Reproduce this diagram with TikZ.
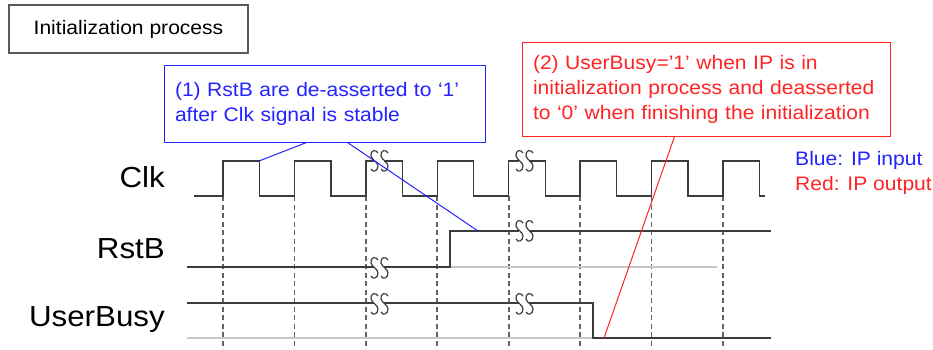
\documentclass[tikz,border=0pt]{standalone}
\usepackage{fontspec}
\setmainfont{Liberation Sans}[FakeStretch=1.08]
\usetikzlibrary{
  positioning,
  calc}
\definecolor{sigcolor}{RGB}{60,60,60}
\definecolor{gridcolor}{RGB}{100,100,100}
\definecolor{basecolor}{RGB}{200,200,200}
\definecolor{inputcolor}{RGB}{35,35,255}
\definecolor{outputcolor}{RGB}{255,35,35}
\definecolor{titlecolor}{RGB}{90,90,90}
\tikzset{
  %% signal : a waveform
  signal/.style={sigcolor, line width=1.4pt, line join=miter},
  %% baseline : the idle level of a signal
  baseline/.style={basecolor, line width=1.4pt},
  %% gridline : clock edge marker
  gridline/.style={gridcolor, line width=1.7pt, dash pattern=on 5pt off 3.5pt},
  %% signame : signal name on the left
  signame/.style={anchor=base east, inner sep=0pt, font=\fontsize{29}{29}\selectfont},
  %% title : the heading box
  title/.style={
    rectangle,
    draw=titlecolor,
    line width=1.5pt,
    minimum width=239pt,
    minimum height=48pt,
    font=\fontsize{19.5}{22}\selectfont,
    align=center
  },
  %% note : a comment box
  note/.style={
    rectangle,
    line width=1pt,
    inner xsep=11pt,
    align=left,
    font=\fontsize{19.5}{25}\selectfont
  },
  %% legend : colour key
  legend/.style={anchor=base west, inner sep=0pt, font=\fontsize{19.5}{22}\selectfont},
  %% callout : line from a note to the waveform
  callout/.style={line width=1pt}
}
\tikzset{
  brk/.pic = {
    \fill [white] (-5,-3) rectangle (5,3);
    \draw [sigcolor, line width=1.2pt] (-1,-8) .. controls (-3,-12) and (-9,-11) .. (-8,-5)
      .. controls (-7,-1) and (-1,1) .. (-1,5) .. controls (-1,10) and (-6,12) .. (-8,8);
    \draw [sigcolor, line width=1.2pt] (9,-8) .. controls (7,-12) and (1,-11) .. (2,-5)
      .. controls (3,-1) and (9,1) .. (9,5) .. controls (9,10) and (4,12) .. (2,8);
  }
}

\begin{document}
\begin{tikzpicture}
  [x=1pt,
  y=-1pt]

  \useasboundingbox (0,0) rectangle (933,349);

  %% Heading and notes
  \node (title) [title] at (128.5,29) {Initialization process};

  \node (rstnote) [note, draw=inputcolor, text=inputcolor,
    minimum width=321pt, minimum height=77pt, text width=299pt] at (324.5,103.5) {%
    (1) RstB are de-asserted to ‘1’\\after Clk signal is stable
  };

  \node (busynote) [note, draw=outputcolor, text=outputcolor,
    minimum width=368pt, minimum height=94pt, text width=346pt] at (706,89) {%
    (2) UserBusy=’1’ when IP is in\\initialization process and deasserted\\to ‘0’ when finishing the initialization
  };

  %% Legend
  \node (legin) [legend, text=inputcolor] at (795,165) {Blue: IP input};
  \node (legout) [legend, text=outputcolor] at (795,190) {Red: IP output};

  %% Signal names
  \node (clkname) [signame] at (165,187) {Clk};
  \node (rstname) [signame] at (165,258) {RstB};
  \node (busyname) [signame] at (165,326) {UserBusy};

  %% Clock edges
  \foreach \i in {0,...,7}
    \draw [gridline] (223+71.43*\i,196) -- (223+71.43*\i,349);

  %% Idle levels
  \draw [baseline] (450,267) -- (717,267);
  \draw [baseline] (187,338) -- (593,338);

  %% Waveforms
  \draw [signal] (194,196)
    \foreach \i in {0,...,7} {
      -- (223+71.43*\i,196) -- ++(0,-35) -- ++(36.5,0) -- ++(0,35)
    } -- (765,196);
  \draw [signal] (187,267) -- (450,267) -- (450,231) -- (771,231);
  \draw [signal] (187,303) -- (593,303) -- (593,338) -- (771,338);

  %% Breaks
  \foreach \p in {(379,161),(524,161),(379,268),(524,231),(379,304),(524,304)}
    \pic at \p {brk};

  %% Callouts
  \coordinate (clkfall) at (259,161);
  \coordinate (rsthigh) at (478,231);
  \coordinate (busylow) at (604,338);
  \draw [callout, inputcolor] ($(rstnote.south west)+(143,0)$) -- (clkfall);
  \draw [callout, inputcolor] ($(rstnote.south west)+(184,0)$) -- (rsthigh);
  \draw [callout, outputcolor] ($(busynote.south west)+(153,0)$) -- (busylow);

\end{tikzpicture}
\end{document}
